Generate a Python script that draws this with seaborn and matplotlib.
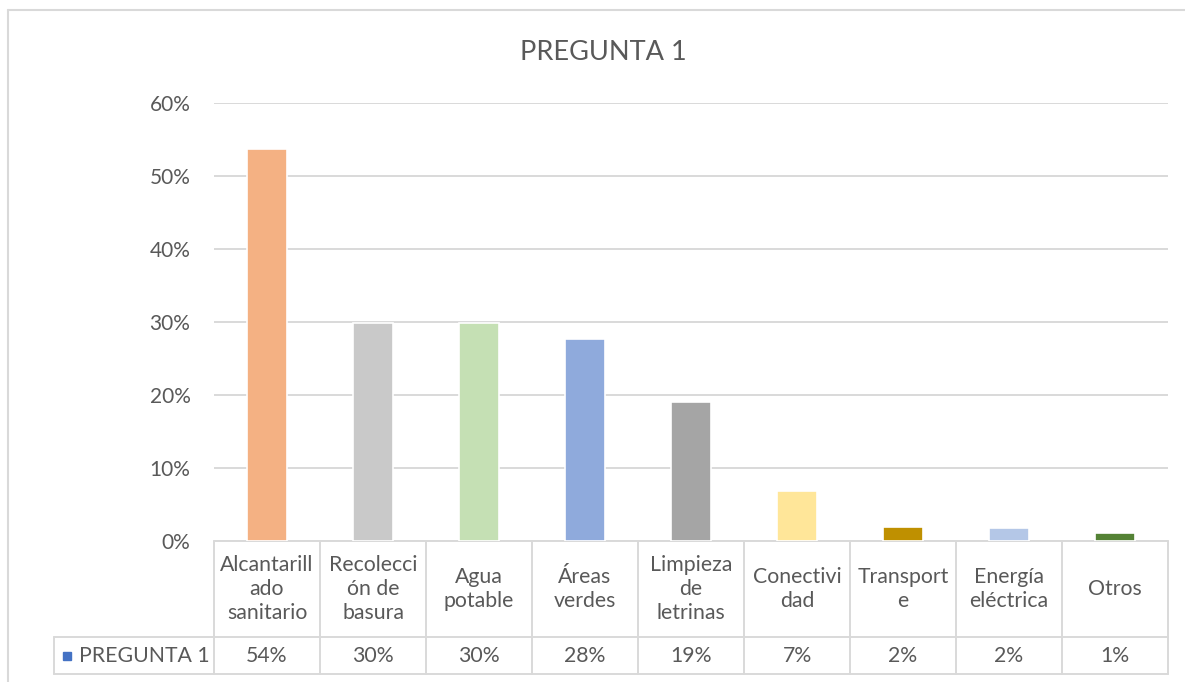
import matplotlib
matplotlib.use("Agg")
import matplotlib.pyplot as plt
import seaborn as sns
import pandas as pd
from matplotlib.lines import Line2D
from matplotlib.patches import Rectangle

# ---- data ----
categories = ["Alcantarill\nado\nsanitario", "Recolecci\nón de\nbasura", "Agua\npotable",
              "Áreas\nverdes", "Limpieza\nde\nletrinas", "Conectivi\ndad", "Transport\ne",
              "Energía\neléctrica", "Otros"]
values = [53.7, 29.9, 29.9, 27.7, 19.0, 6.8, 1.9, 1.8, 1.1]
series_name = "PREGUNTA 1"
title = "PREGUNTA 1"
yticks = [0, 10, 20, 30, 40, 50, 60]
colors = ["#F4B183", "#C9C9C9", "#C5E0B4", "#8FAADC", "#A5A5A5",
          "#FFE699", "#BF9000", "#B4C7E7", "#548235"]

sns.set_theme(style="white")
plt.rcParams["font.family"] = ["Lato", "DejaVu Sans"]

W, H = 1185, 682
fig = plt.figure(figsize=(W / 100, H / 100), dpi=100)
fig.patch.set_facecolor("white")

left_px, right_px, top_px, bottom_px = 214, 1168, 103, 541
ax = fig.add_axes([left_px / W, 1 - bottom_px / H, (right_px - left_px) / W, (bottom_px - top_px) / H])

txt = "#595959"
grid = "#D9D9D9"

df = pd.DataFrame({"cat": categories, "val": values})
sns.barplot(data=df, x="cat", y="val", hue="cat", palette=colors, width=0.37,
            saturation=1, edgecolor="white", linewidth=1.2, legend=False, ax=ax, zorder=3)

ax.set_ylim(0, 60)
ax.set_xlim(-0.5, len(categories) - 0.5)
ax.set_yticks(yticks)
ax.set_yticklabels([f"{t}%" for t in yticks], color=txt, fontsize=15)
ax.tick_params(axis="y", length=0, pad=17)
ax.set_xticks([])
ax.set_xlabel("")
ax.set_ylabel("")
for s in ax.spines.values():
    s.set_visible(False)
ax.yaxis.grid(True, color=grid, linewidth=1.4, zorder=0)
ax.set_axisbelow(True)

# ---- data table below ----
axh = bottom_px - top_px
def yfrac(py):
    return (bottom_px - py) / axh

row_mid = 637
tab_bot = 674
tr = ax.get_xaxis_transform()
n = len(categories)
lw = 1.4
ax.add_line(Line2D([-0.5, n - 0.5], [0, 0], transform=tr, color=grid, lw=lw, clip_on=False, zorder=1))
ax.add_line(Line2D([-0.5, n - 0.5], [yfrac(row_mid)] * 2, transform=tr, color=grid, lw=lw, clip_on=False))
ax.add_line(Line2D([-0.5, n - 0.5], [yfrac(tab_bot)] * 2, transform=tr, color=grid, lw=lw, clip_on=False))
for i in range(n + 1):
    ax.add_line(Line2D([i - 0.5, i - 0.5], [0, yfrac(tab_bot)], transform=tr, color=grid, lw=lw, clip_on=False))
fig.add_artist(Line2D([54 / W, left_px / W], [1 - row_mid / H] * 2, color=grid, lw=lw))
fig.add_artist(Line2D([54 / W, left_px / W], [1 - tab_bot / H] * 2, color=grid, lw=lw))
fig.add_artist(Line2D([54 / W, 54 / W], [1 - row_mid / H, 1 - tab_bot / H], color=grid, lw=lw))
fig.add_artist(Rectangle((63 / W, 1 - 660 / H), 8 / W, 8 / H, color="#4472C4", transform=fig.transFigure))
fig.text(79 / W, 1 - 656 / H, series_name, color=txt, fontsize=15.3, va="center", ha="left")

for i, (c, v) in enumerate(zip(categories, values)):
    ax.text(i, yfrac((bottom_px + row_mid) / 2), c, transform=tr, ha="center", va="center",
            color=txt, fontsize=15.3, linespacing=1.25, clip_on=False)
    ax.text(i, yfrac((row_mid + tab_bot) / 2), f"{round(v)}%", transform=tr, ha="center",
            va="center", color=txt, fontsize=15.3, clip_on=False)

fig.text(603 / W, 1 - 52 / H, title, color=txt, fontsize=19.5, ha="center", va="center")

fig.add_artist(Line2D([8 / W, 1.0], [1 - 10 / H] * 2, color=grid, lw=1.5))
fig.add_artist(Line2D([8 / W, 8 / W], [0, 1 - 10 / H], color=grid, lw=1.5))

fig.savefig("out.png", dpi=100, facecolor="white")
